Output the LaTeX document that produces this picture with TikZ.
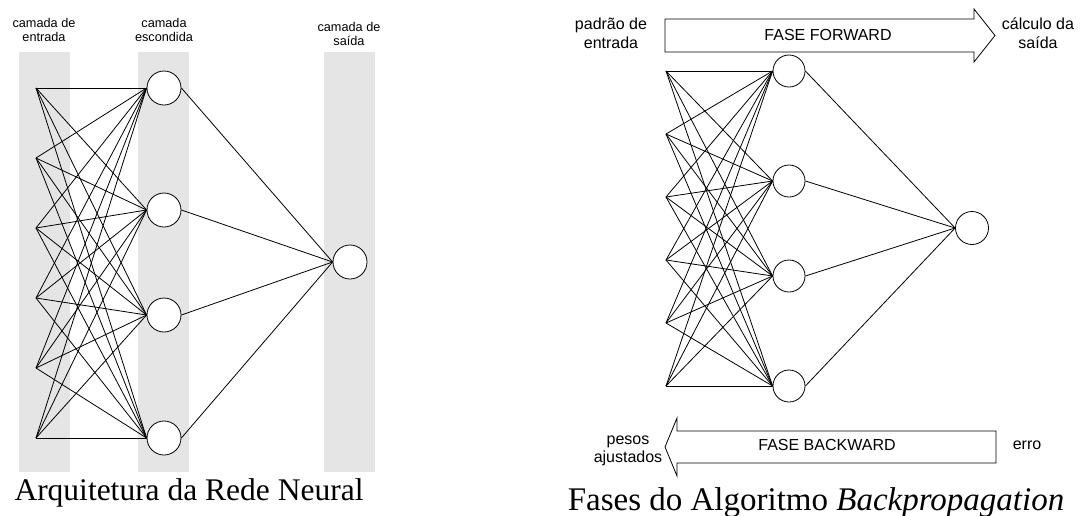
\documentclass[tikz,border=0pt]{standalone}
\usepackage{fontspec}
\setmainfont{Liberation Serif}
\setsansfont{Liberation Sans}
\usetikzlibrary{positioning}
\tikzset{netstyle/.style={
    x=1pt, y=-1pt,% one unit per pixel, y downwards
    line width=0.8pt,
    band/.style={fill=black!10, draw=none},
    neuron/.style={circle, draw, fill=white, inner sep=0pt, minimum size=34pt},
    layerlabel/.style={align=center, font=\sffamily\fontsize{12.7}{14}\selectfont},
    phaselabel/.style={align=center, font=\sffamily\fontsize{16}{19}\selectfont},
    phasearrow/.style={draw, fill=white},
    caption/.style={anchor=base}
  }
}
\begin{document}
\begin{tikzpicture}[netstyle]
  \useasboundingbox (0,0) rectangle (1085,515);
  % arquitetura
  \fill[band] (19,52) rectangle (70,472);
  \fill[band] (138,52) rectangle (189,472);
  \fill[band] (324,52) rectangle (375,472);
  \node[layerlabel] (lin) at (44,30) {camada de\\entrada};
  \node[layerlabel] (lhid) at (164,30) {camada\\escondida};
  \node[layerlabel] (lout) at (349,34) {camada de\\saída};
  \foreach \i/\y in {1/88,2/158,3/228,4/298,5/368,6/438}
    \coordinate (a\i) at (36,\y);
  \foreach \j/\y in {1/88,2/210,3/315,4/438}
    \node[neuron] (b\j) at (164,\y) {};
  \node[neuron] (c) at (350,262) {};
  \foreach \i in {1,...,6}
    \foreach \j in {1,...,4}
      \draw (a\i) -- (b\j.west);
  \foreach \j in {1,...,4}
    \draw (b\j.east) -- (c.west);
  \node[caption, font=\fontsize{31.5}{36}\selectfont] (cap1) at (189,500) {Arquitetura da Rede Neural};
  % fases
  \foreach \i/\y in {1/71,2/134,3/197,4/260,5/323,6/386}
    \coordinate (p\i) at (666,\y);
  \foreach \j/\y in {1/71,2/181,3/276,4/386}
    \node[neuron, minimum size=32pt] (q\j) at (789,\y) {};
  \node[neuron, minimum size=33pt] (r) at (972,228) {};
  \foreach \i in {1,...,6}
    \foreach \j in {1,...,4}
      \draw (p\i) -- (q\j.west);
  \foreach \j in {1,...,4}
    \draw (q\j.east) -- (r.west);
  \draw[phasearrow] (665,19) -- (974,19) -- (974,9) -- (995,35.5)
    -- (974,62) -- (974,52) -- (665,52) -- cycle;
  \node[phaselabel] (fwd) at (828,35) {FASE FORWARD};
  \node[phaselabel] (pin) at (611,33) {padrão de\\entrada};
  \node[phaselabel] (pout) at (1038,33) {cálculo da\\saída};
  \draw[phasearrow] (996,431) -- (677,431) -- (677,418) -- (665,447)
    -- (677,476) -- (677,463) -- (996,463) -- cycle;
  \node[phaselabel] (bwd) at (827,445) {FASE BACKWARD};
  \node[phaselabel, font=\sffamily\fontsize{16}{18}\selectfont] (pw) at (628,451) {pesos\\ajustados};
  \node[phaselabel] (err) at (1027,445) {erro};
  \node[caption, font=\fontsize{33}{38}\selectfont] (cap2) at (816,510) {Fases do Algoritmo \textit{Backpropagation}};
\end{tikzpicture}
\end{document}
